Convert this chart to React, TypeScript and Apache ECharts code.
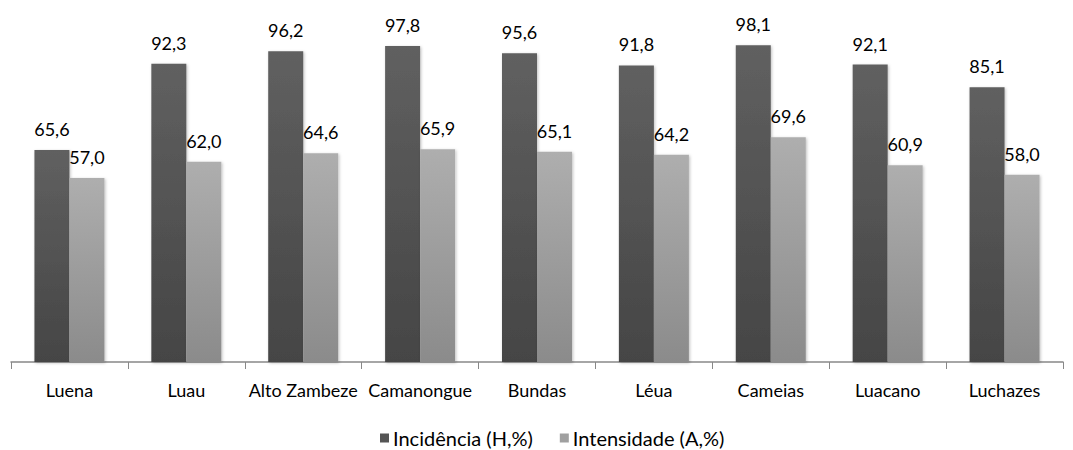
import React, { useEffect, useRef } from "react";
import * as echarts from "echarts";

const categories = ["Luena", "Luau", "Alto Zambeze", "Camanongue", "Bundas", "Léua", "Cameias", "Luacano", "Luchazes"];
const incidencia = [65.6, 92.3, 96.2, 97.8, 95.6, 91.8, 98.1, 92.1, 85.1];
const intensidade = [57.0, 62.0, 64.6, 65.9, 65.1, 64.2, 69.6, 60.9, 58.0];
const seriesNames = ["Incidência (H,%)", "Intensidade (A,%)"];

const FONT = "Lato";

const fmt = (p: any) => Number(p.value).toFixed(1).replace(".", ",");

export default function App() {
  const ref = useRef<HTMLDivElement>(null);
  useEffect(() => {
    if (!ref.current) return;
    const chart = echarts.init(ref.current, undefined, { renderer: "svg" });
    const darkGrad = new echarts.graphic.LinearGradient(0, 0, 0, 1, [
      { offset: 0, color: "#606060" },
      { offset: 1, color: "#454545" },
    ]);
    const lightGrad = new echarts.graphic.LinearGradient(0, 0, 0, 1, [
      { offset: 0, color: "#aeaeae" },
      { offset: 1, color: "#8b8b8b" },
    ]);
    chart.setOption({
      animation: false,
      backgroundColor: "#ffffff",
      textStyle: { fontFamily: FONT },
      grid: { left: 11, right: 10, top: 39, bottom: 88, containLabel: false },
      legend: {
        left: 380,
        top: 428,
        padding: 0,
        itemWidth: 9,
        itemHeight: 9,
        itemGap: 27,
        icon: "rect",
        textStyle: { fontFamily: FONT, fontSize: 20, color: "#000", padding: [0, 0, 0, -1] },
        data: [
          { name: seriesNames[0], itemStyle: { color: "#555555" } },
          { name: seriesNames[1], itemStyle: { color: "#a0a0a0" } },
        ],
      },
      xAxis: {
        type: "category",
        data: categories,
        axisLine: { lineStyle: { color: "#888888", width: 1.5 } },
        axisTick: { show: true, length: 7, lineStyle: { color: "#888888" } },
        axisLabel: { color: "#000", fontSize: 18, margin: 19, fontFamily: FONT, interval: 0 },
      },
      yAxis: {
        type: "value",
        min: 0,
        max: 100,
        show: false,
        splitLine: { show: false },
      },
      series: [
        {
          name: seriesNames[0],
          type: "bar",
          data: incidencia,
          barWidth: 35,
          barGap: "0%",
          itemStyle: {
            color: darkGrad,
            shadowColor: "rgba(0,0,0,0.25)",
            shadowBlur: 3,
            shadowOffsetX: 1,
            shadowOffsetY: 1,
          },
          label: { show: true, position: "top", distance: 12, formatter: fmt, color: "#000", fontSize: 18, fontFamily: FONT },
        },
        {
          name: seriesNames[1],
          type: "bar",
          data: intensidade,
          barWidth: 35,
          itemStyle: {
            color: lightGrad,
            shadowColor: "rgba(0,0,0,0.25)",
            shadowBlur: 3,
            shadowOffsetX: 1,
            shadowOffsetY: 1,
          },
          label: { show: true, position: "top", distance: 12, formatter: fmt, color: "#000", fontSize: 18, fontFamily: FONT },
        },
      ],
    });
    return () => chart.dispose();
  }, []);
  return <div ref={ref} style={{ position: "fixed", left: 0, top: 0, width: 1073, height: 450 }} />;
}
